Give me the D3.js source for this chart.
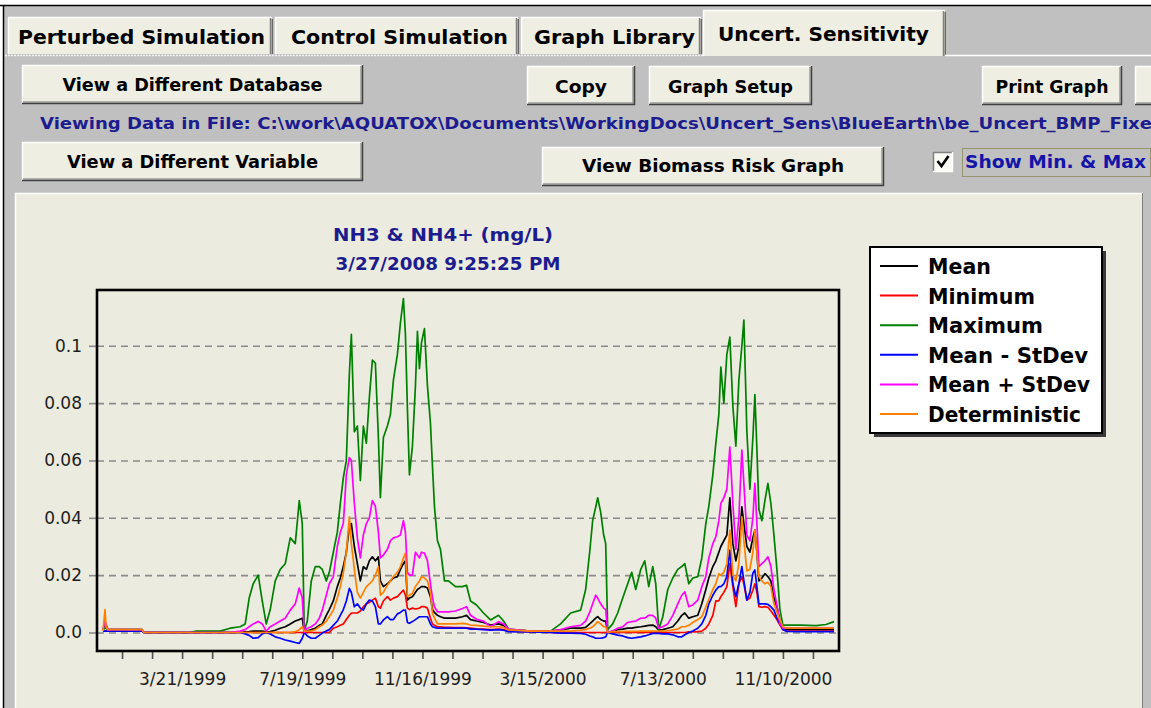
<!DOCTYPE html>
<html><head><meta charset="utf-8">
<script src="https://cdn.jsdelivr.net/npm/d3@7/dist/d3.min.js"></script>
<style>
body{margin:0;background:#fff;overflow:hidden}
text{font-family:"DejaVu Sans",sans-serif}
</style>
</head><body>
<svg id="c" width="1151" height="708"></svg>
<script>
// ---------- DATA ----------
const startDate = "1999-01-01";
// day offsets from startDate for each sample
const dayOffsets = [
0,2,3,5,22,39,41,87,93,117,
127,137,142,146,150,155,159,163,167,172,
177,182,187,192,196,199,201,204,208,212,
216,219,223,226,230,234,237,240,243,246,
248,251,254,257,260,263,266,269,272,275,
277,280,284,287,290,294,297,300,302,304,
306,309,312,314,316,318,321,324,327,329,
331,334,337,341,345,352,359,363,367,373,
380,387,395,400,405,427,447,457,467,477,
482,486,489,492,494,497,500,502,504,509,
514,519,524,528,532,537,541,545,549,552,
555,559,564,569,574,578,581,585,589,594,
598,602,605,609,612,615,617,620,623,626,
629,632,635,638,640,643,646,649,651,653,
655,658,661,664,667,670,673,676,679,683,
697,712,722,730];

const meanVals = [
0.001,0.003,0.002,0.001,0.001,0.001,0,0,0,0,
0,0,0.0002,0.0003,0.0005,0.0005,0.0005,0.0002,0.0003,0.0008,
0.0015,0.002,0.003,0.004,0.0045,0.005,0,0.0005,0.001,0.0015,
0.0025,0.003,0.006,0.008,0.011,0.016,0.019,0.023,0.028,0.037,
0.038,0.030,0.024,0.018,0.023,0.022,0.025,0.0264,0.025,0.0264,
0.018,0.016,0.017,0.018,0.019,0.0195,0.022,0.024,0.025,0.0113,
0.012,0.0125,0.014,0.015,0.0155,0.016,0.016,0.0155,0.0125,0.008,
0.007,0.006,0.0055,0.005,0.005,0.005,0.0055,0.006,0.0045,0.004,
0.0035,0.0026,0.003,0.0025,0.0009,0.0005,0.0005,0.0008,0.0015,0.0015,
0.0018,0.003,0.004,0.005,0.0055,0.0045,0.004,0.004,0,0.0005,
0.001,0.0012,0.0015,0.0015,0.0018,0.002,0.0022,0.0025,0.0026,0.002,
0.0008,0.001,0.0015,0.002,0.004,0.006,0.0068,0.005,0.0055,0.006,
0.010,0.015,0.019,0.023,0.025,0.028,0.030,0.032,0.034,0.047,
0.031,0.025,0.030,0.0438,0.038,0.030,0.028,0.033,0.0357,0.028,
0.018,0.019,0.0205,0.0195,0.018,0.012,0.009,0.004,0.0015,0.001,
0.001,0.001,0.001,0.001];

const minVals = [
0.0005,0.0005,0.0005,0.0005,0.0005,0.0005,0,0,0,0,
0,0,0,0,0,0,0,0,0,0,
0,0,0,0,0,0,0,0,0,0,
0,0,0,0,0.0015,0.002,0.0025,0.003,0.0045,0.006,
0.0068,0.0068,0.0068,0.0075,0.009,0.010,0.0105,0.0113,0.012,0.009,
0.0085,0.011,0.0125,0.0113,0.012,0.0125,0.0137,0.0148,0.013,0.0085,
0.008,0.0085,0.0082,0.0083,0.0085,0.009,0.009,0.0085,0.005,0.003,
0.0025,0.002,0.002,0.0018,0.0018,0.0017,0.0017,0.0016,0.0015,0.0013,
0.0012,0.001,0.0012,0.001,0.0005,0.0002,0,0,0,0,
0,0,0,0,0,0,0,0,0,0,
0,0,0,0,0,0,0,0,0,0,
0,0,0,0,0,0,0,0.0002,0.0002,0.0003,
0.0005,0.0015,0.003,0.006,0.011,0.011,0.0125,0.014,0.016,0.024,
0.016,0.009,0.017,0.0195,0.017,0.0113,0.012,0.0148,0.017,0.014,
0.009,0.0088,0.009,0.0088,0.0075,0.006,0.0045,0.0026,0.001,0.0005,
0.0005,0.0005,0.0005,0.0005];

const maxVals = [
0.001,0.0015,0.0015,0.001,0.001,0.001,0,0,0.0005,0.0005,
0.0015,0.002,0.003,0.012,0.017,0.020,0.011,0.003,0.008,0.018,
0.022,0.024,0.033,0.031,0.046,0.038,0.0005,0.004,0.018,0.023,
0.023,0.022,0.018,0.021,0.028,0.035,0.045,0.054,0.060,0.090,
0.104,0.070,0.072,0.053,0.072,0.066,0.082,0.095,0.094,0.068,
0.047,0.068,0.072,0.076,0.088,0.097,0.108,0.1165,0.104,0.078,
0.055,0.065,0.086,0.105,0.092,0.101,0.106,0.086,0.073,0.058,
0.044,0.032,0.029,0.018,0.018,0.016,0.016,0.0165,0.011,0.0096,
0.0068,0.0044,0.006,0.004,0.0012,0.0005,0.0005,0.003,0.0068,0.0078,
0.015,0.028,0.039,0.0437,0.047,0.042,0.034,0.031,0.001,0.003,
0.0068,0.012,0.017,0.021,0.015,0.022,0.025,0.016,0.023,0.017,
0.001,0.0055,0.015,0.019,0.022,0.023,0.024,0.017,0.019,0.0195,
0.026,0.038,0.044,0.055,0.066,0.076,0.0926,0.080,0.097,0.103,
0.079,0.065,0.088,0.100,0.109,0.070,0.050,0.068,0.083,0.064,
0.043,0.039,0.046,0.052,0.045,0.034,0.022,0.008,0.0026,0.0026,
0.0026,0.0024,0.0028,0.0038];

const meanMinusSdVals = [
0.0005,0.0005,0.0005,0.0005,0.0005,0.0005,0,0,0,0,
0,0,-0.0005,-0.001,-0.002,-0.0018,-0.0005,0,-0.0005,-0.0015,
-0.002,-0.0026,-0.003,-0.0035,-0.0038,-0.002,0,-0.0012,-0.002,-0.002,
-0.001,-0.0002,0.0005,0.001,0.0025,0.004,0.006,0.008,0.011,0.0154,
0.014,0.009,0.010,0.0085,0.0078,0.010,0.0113,0.011,0.009,0.003,
0.003,0.0044,0.0055,0.0045,0.0045,0.0065,0.007,0.0078,0.0078,0.0035,
0.0032,0.0038,0.0045,0.005,0.0055,0.0055,0.0055,0.0055,0.003,0.002,
0.0018,0.0015,0.0015,0.0015,0.0015,0.0015,0.0015,0.0015,0.0012,0.0012,
0.001,0.0008,0.001,0.0008,0.0003,0.0002,0,-0.0002,-0.0002,-0.0003,
-0.0006,-0.0012,-0.0015,-0.002,-0.002,-0.002,-0.0018,-0.0015,0,-0.0005,
-0.0009,-0.0012,-0.0018,-0.002,-0.0018,-0.0015,-0.0012,-0.0008,-0.0003,-0.0003,
-0.0003,-0.0005,-0.0005,-0.0008,-0.0015,-0.0015,-0.0008,0,0.0005,0.0015,
0.003,0.006,0.010,0.013,0.0148,0.016,0.016,0.017,0.0195,0.0287,
0.017,0.0125,0.017,0.023,0.018,0.0113,0.014,0.0207,0.0218,0.016,
0.010,0.010,0.010,0.0098,0.009,0.0078,0.005,0.003,0.001,0.0004,
0.0003,0.0003,0.0003,0.0003];

const meanPlusSdVals = [
0.001,0.004,0.003,0.001,0.001,0.001,0,0,0,0,
0,0.0005,0.001,0.002,0.003,0.0038,0.003,0.0005,0.002,0.003,
0.004,0.005,0.0078,0.010,0.0155,0.012,0,0.0015,0.002,0.003,
0.005,0.0078,0.013,0.017,0.0195,0.030,0.035,0.038,0.055,0.061,
0.060,0.045,0.033,0.026,0.034,0.038,0.040,0.046,0.044,0.035,
0.026,0.027,0.029,0.032,0.033,0.0334,0.034,0.039,0.035,0.021,
0.020,0.020,0.028,0.027,0.026,0.028,0.0277,0.025,0.017,0.012,
0.009,0.0072,0.0072,0.0072,0.0072,0.0075,0.0084,0.009,0.006,0.0046,
0.004,0.002,0.0038,0.003,0.0012,0.0005,0.0005,0.001,0.002,0.0025,
0.004,0.007,0.010,0.013,0.012,0.010,0.0085,0.008,0,0.0005,
0.0015,0.002,0.0035,0.0038,0.004,0.005,0.005,0.006,0.006,0.005,
0.0015,0.002,0.003,0.006,0.010,0.013,0.0142,0.009,0.0096,0.0113,
0.016,0.0195,0.026,0.031,0.0334,0.039,0.045,0.047,0.050,0.0647,
0.045,0.029,0.040,0.0636,0.052,0.034,0.032,0.040,0.052,0.038,
0.023,0.024,0.025,0.0264,0.023,0.015,0.0095,0.003,0.0015,0.0015,
0.0015,0.0015,0.0015,0.0015];

const deterministicVals = [
0.0005,0.008,0.002,0.001,0.001,0.001,0,0,0,0,
0,0,0,0,0,0,0,0,0,0,
0,0,0,0.0003,0.001,0.002,0.0005,0.0005,0.0005,0.001,
0.002,0.0026,0.004,0.0055,0.0078,0.012,0.016,0.0207,0.028,0.0403,
0.031,0.022,0.014,0.012,0.014,0.016,0.017,0.018,0.020,0.023,
0.013,0.014,0.0165,0.018,0.0195,0.021,0.023,0.026,0.0277,0.0125,
0.013,0.0137,0.016,0.017,0.018,0.0195,0.019,0.018,0.0137,0.0068,
0.005,0.003,0.003,0.003,0.003,0.003,0.0032,0.003,0.0026,0.0025,
0.0022,0.002,0.002,0.0018,0.0009,0.0005,0.0005,0.0005,0.0005,0.0008,
0.001,0.0015,0.002,0.003,0.0038,0.003,0.002,0.002,0,0.0003,
0.0003,0.0003,0.0004,0.0004,0.0004,0.0005,0.0005,0.0005,0.0005,0.0005,
0.0005,0.0005,0.0006,0.0009,0.0012,0.002,0.002,0.0025,0.0035,0.0045,
0.0055,0.009,0.0115,0.015,0.017,0.0205,0.020,0.021,0.024,0.0357,
0.020,0.018,0.024,0.0403,0.032,0.0215,0.022,0.028,0.0357,0.028,
0.0195,0.018,0.017,0.0175,0.016,0.010,0.007,0.0044,0.002,0.0015,
0.0015,0.0015,0.0015,0.0015];

const seriesNames = ["Mean","Minimum","Maximum","Mean - StDev","Mean + StDev","Deterministic"];
const seriesColors = ["#000000","#ff0000","#008000","#0000ff","#ff00ff","#ff8000"];
const seriesValues = [meanVals,minVals,maxVals,meanMinusSdVals,meanPlusSdVals,deterministicVals];

const yTickValues = [0,0.02,0.04,0.06,0.08,0.1];
const yTickLabels = ["0.0","0.02","0.04","0.06","0.08","0.1"];
const xTickLabels = ["3/21/1999","7/19/1999","11/16/1999","3/15/2000","7/13/2000","11/10/2000"];
const xAxisStart = "1998-12-26", xAxisEnd = "2001-01-05", xMinorTickStart = "1999-01-20";

const chartTitle = ["NH3 & NH4+ (mg/L)","3/27/2008 9:25:25 PM"];
const tabLabels = ["Perturbed Simulation","Control Simulation","Graph Library","Uncert. Sensitivity"];
const filePath = "Viewing Data in File: C:\\work\\AQUATOX\\Documents\\WorkingDocs\\Uncert_Sens\\BlueEarth\\be_Uncert_BMP_Fixe";

// ---------- DRAW ----------
const svg = d3.select("#c");
const CREAM = "#ecebdf", BTN = "#efeee3", GRAY = "#c0c0c0", NAVY = "#1c1c8e";

function rect(x,y,w,h,fill,stroke,sw){
  return svg.append("rect").attr("x",x).attr("y",y).attr("width",w).attr("height",h)
    .attr("fill",fill||"none").attr("stroke",stroke||"none").attr("stroke-width",sw||1);
}
function line(x1,y1,x2,y2,stroke,sw,dash){
  const l = svg.append("line").attr("x1",x1).attr("y1",y1).attr("x2",x2).attr("y2",y2)
    .attr("stroke",stroke).attr("stroke-width",sw||1);
  if(dash) l.attr("stroke-dasharray",dash);
  return l;
}
function txt(x,y,s,o){
  o=o||{};
  const t = svg.append("text").attr("x",x).attr("y",y).text(s)
    .attr("font-size",o.size||16).attr("font-weight",o.weight||"normal")
    .attr("fill",o.fill||"#000").attr("text-anchor",o.anchor||"start");
  if(o.len) t.attr("textLength",o.len).attr("lengthAdjust","spacingAndGlyphs");
  return t;
}
function button(x,y,w,h,label,tlen,base){
  rect(x,y,w,h,BTN);
  line(x,y+0.5,x+w,y+0.5,"#ffffff",1.5);
  line(x+0.5,y,x+0.5,y+h,"#ffffff",1.5);
  line(x+1,y+h-2,x+w-1,y+h-2,"#9a9a9a",1.5);
  line(x+w-2,y+1,x+w-2,y+h-1,"#9a9a9a",1.5);
  line(x,y+h-0.5,x+w,y+h-0.5,"#404040",1.5);
  line(x+w-0.5,y,x+w-0.5,y+h,"#404040",1.5);
  if(label) txt(x+w/2,base,label,{size:17,weight:"bold",anchor:"middle",len:tlen});
}

// window chrome
rect(0,0,1151,708,"#ffffff");
rect(4,6,1147,702,GRAY);
line(0,5.5,1151,5.5,"#000",1.5);
line(3.5,5,3.5,708,"#000",1.5);

// tabs
const tabs = [[8,17,264,37],[275,17,243,37],[521,17,180,37],[703,10,242,46]];
const tabText = [[18,44,247],[291,44,217],[534,44,161],[718,41,211]];
tabs.forEach((t,i)=>{
  rect(t[0],t[1],t[2],t[3],BTN);
  line(t[0]+0.5,t[1],t[0]+0.5,t[1]+t[3],"#ffffff",1.5);
  line(t[0],t[1]+0.5,t[0]+t[2],t[1]+0.5,"#ffffff",1.5);
  line(t[0]+t[2]-1.5,t[1]+1,t[0]+t[2]-1.5,t[1]+t[3],"#808080",1.5);
  line(t[0]+t[2]+0.2,t[1]+2,t[0]+t[2]+0.2,t[1]+t[3],"#404040",1);
  txt(tabText[i][0],tabText[i][1],tabLabels[i],{size:19,weight:"bold",len:tabText[i][2]});
});
line(5,55.5,703,55.5,"#f4f4f4",1.5,"2 1");
line(945,55.5,1151,55.5,"#ffffff",1.5);

// buttons
button(22,65,341,39,"View a Different Database",260,91);
button(527,66,108,39,"Copy",52,93);
button(649,66,163,39,"Graph Setup",125,93);
button(982,66,140,39,"Print Graph",113,93);
button(1135,66,30,39,null);
button(22,142,341,39,"View a Different Variable",251,168);
button(542,147,342,39,"View Biomass Risk Graph",262,172);

txt(40,129,filePath,{size:16,weight:"bold",fill:NAVY,len:1112});

// checkbox
rect(933,152,20,20,"#fbfbf5");
line(933,152.5,953,152.5,"#808080",1.5);
line(933.5,152,933.5,172,"#808080",1.5);
line(933,171.5,953,171.5,"#ffffff",1.5);
line(952.5,152,952.5,172,"#ffffff",1.5);
svg.append("path").attr("d","M937.5,161 L941.5,166 L948.5,156").attr("fill","none")
  .attr("stroke","#000").attr("stroke-width",2.6);
rect(962.5,148.5,188,28,"none","#6b6b20",1).attr("stroke-dasharray","1 1");
txt(965,168,"Show Min. & Max",{size:17,weight:"bold",fill:"#1414a8",len:181});

// chart panel
rect(15,193,1128,515,CREAM);
line(15,193.5,1143,193.5,"#ffffff",1.5);
line(15.5,193,15.5,708,"#ffffff",1.5);
line(1142.5,193,1142.5,708,"#808080",1);

// title
txt(443,241,chartTitle[0],{size:18,weight:"bold",fill:NAVY,anchor:"middle",len:220});
txt(448,270,chartTitle[1],{size:18,weight:"bold",fill:NAVY,anchor:"middle",len:225});

// scales
const P = {l:97,t:290,r:839,b:651};
const parse = d3.utcParse("%Y-%m-%d");
const parseLbl = d3.utcParse("%m/%d/%Y");
const x = d3.scaleUtc().domain([parse(xAxisStart),parse(xAxisEnd)]).range([P.l,P.r]);
const y = d3.scaleLinear().domain([-0.00645,0.11946]).range([P.b,P.t]);
const t0 = parse(startDate);
const dates = dayOffsets.map(d=>d3.utcDay.offset(t0,d));

// grid
const grid = svg.append("g").attr("transform",`translate(${P.l},0)`)
  .call(d3.axisLeft(y).tickValues(yTickValues).tickSize(-(P.r-P.l)).tickFormat(""));
grid.select(".domain").remove();
grid.selectAll("line").attr("stroke","#8a8a8a").attr("stroke-width",1.6).attr("stroke-dasharray","7 5");

// y axis
const ya = svg.append("g").attr("transform",`translate(${P.l},0)`)
  .call(d3.axisLeft(y).tickValues(yTickValues).tickFormat((d,i)=>yTickLabels[i]).tickSize(8).tickPadding(7));
ya.select(".domain").remove();
ya.selectAll("line").attr("stroke","#8a8a8a").attr("stroke-width",1.6);
ya.selectAll("text").attr("font-family","DejaVu Sans").attr("font-size",17).attr("fill","#1e1e1e");

// x axis
const majorSet = new Map(xTickLabels.map(s=>[parseLbl(s).getTime(),s]));
const tickDates = d3.utcDay.range(parse(xMinorTickStart),x.domain()[1],30);
const xa = svg.append("g").attr("transform",`translate(0,${P.b})`)
  .call(d3.axisBottom(x).tickValues(tickDates).tickFormat(d=>majorSet.get(d.getTime())||"").tickSize(8).tickPadding(14));
xa.select(".domain").remove();
xa.selectAll("line").attr("stroke","#505050").attr("stroke-width",1.6);
xa.selectAll("text").attr("font-family","DejaVu Sans").attr("font-size",17).attr("fill","#1e1e1e");

// lines
svg.append("clipPath").attr("id","pc").append("rect")
  .attr("x",P.l).attr("y",P.t).attr("width",P.r-P.l).attr("height",P.b-P.t);
const gen = d3.line().x((d,i)=>x(dates[i])).y(d=>y(d));
const lg = svg.append("g").attr("clip-path","url(#pc)");
seriesValues.forEach((vals,i)=>{
  lg.append("path").attr("d",gen(vals)).attr("fill","none")
    .attr("stroke",seriesColors[i]).attr("stroke-width",1.7).attr("stroke-linejoin","round");
});

// frame
rect(P.l,P.t,P.r-P.l,P.b-P.t,"none","#000",2.6);

// legend
rect(874,251,232,186,"#3a3a3a");
rect(870,247,232,186,"#ffffff","#000",2);
const legLens = [63,107,115,160,162,153];
seriesNames.forEach((n,i)=>{
  const cy = 266 + i*29.6;
  line(880,cy,918,cy,seriesColors[i],2);
  txt(928,cy+8,n,{size:22,weight:"bold",len:legLens[i]});
});
</script>
</body></html>
